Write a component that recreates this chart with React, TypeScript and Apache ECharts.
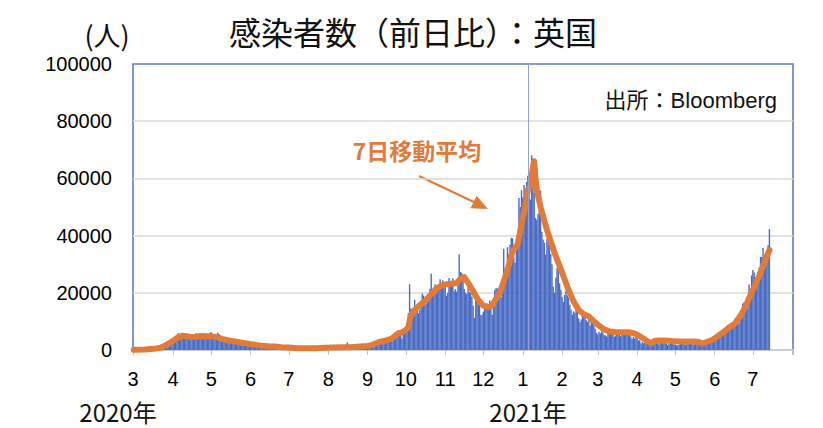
import React, { useEffect, useRef } from 'react';
import * as echarts from 'echarts';

// ---- Daily new cases (reported), UK ----
const monthKeys = [
  '2020-03', '2020-04', '2020-05', '2020-06', '2020-07', '2020-08', '2020-09', '2020-10',
  '2020-11', '2020-12', '2021-01', '2021-02', '2021-03', '2021-04', '2021-05', '2021-06', '2021-07',
];
const mar20 = [12, 4, 11, 34, 30, 48, 43, 67, 48, 52, 83, 134, 208, 342, 251, 152, 407, 676, 643, 714, 1035, 665, 967, 1427, 1452, 2129, 2885, 2546, 2433, 2619, 3009];
const apr20 = [4324, 4244, 4450, 3735, 5903, 3802, 3634, 5491, 4344, 5706, 5234, 5288, 4342, 5252, 4605, 4618, 5599, 5525, 5850, 4676, 4301, 4451, 4583, 5386, 4913, 4463, 4309, 3996, 4076, 6032];
const may20 = [6201, 4806, 4339, 3985, 4406, 6111, 5614, 4649, 3896, 3923, 3877, 3403, 3242, 3446, 3560, 3451, 3142, 2684, 2412, 2472, 2615, 3287, 2959, 2405, 1625, 2004, 2013, 1887, 2095, 1936, 1570];
const jun20 = [1613, 1871, 1805, 1650, 1557, 1326, 1205, 1387, 1003, 1266, 1541, 1425, 1514, 1056, 1279, 1115, 1218, 1346, 1295, 1221, 958, 874, 653, 1118, 1006, 890, 901, 1006, 814, 689];
const jul20 = [829, 576, 544, 624, 516, 352, 581, 630, 642, 512, 820, 650, 530, 598, 538, 687, 642, 827, 726, 580, 445, 560, 769, 768, 767, 743, 685, 581, 763, 846, 880];
const aug20 = [744, 743, 938, 670, 892, 950, 1500, 758, 1062, 816, 1148, 1009, 1441, 1012, 1077, 2600, 713, 1089, 812, 1182, 1033, 1288, 1041, 853, 1184, 1048, 1522, 1276, 1108, 1715, 1406];
const sep20 = [1295, 1508, 1735, 1940, 1813, 2988, 2948, 2460, 2659, 2919, 3539, 3497, 3330, 2621, 3105, 3991, 3395, 4322, 4422, 3899, 4368, 4926, 6178, 6634, 6874, 6042, 5693, 4044, 7143, 7108];
const oct20 = [6914, 6968, 12872, 22961, 14542, 14542, 14162, 17540, 13864, 15166, 12872, 13972, 17234, 19724, 18980, 15650, 16171, 16982, 18804, 21331, 26688, 21242, 20530, 23012, 19790, 20890, 22885, 24701, 23065, 24405, 21915];
const nov20 = [23254, 18950, 20018, 25177, 24141, 23287, 24957, 20572, 21350, 20412, 22950, 33470, 27301, 26860, 24962, 21363, 20051, 19609, 22915, 20252, 19875, 18662, 15450, 11299, 18213, 17555, 16022, 15871, 12155, 12330];
const dec20 = [13430, 16170, 14879, 16298, 15539, 17272, 14718, 12282, 16578, 20964, 21672, 21502, 18447, 20263, 18450, 25161, 35383, 28507, 27052, 35928, 33364, 36804, 39237, 39036, 32725, 30501, 34693, 41385, 53135, 50023, 55892];
const jan21 = [53285, 57725, 54990, 58784, 60916, 62322, 52618, 68053, 59937, 54940, 46169, 45533, 47525, 48682, 55761, 41346, 38598, 37535, 33355, 38905, 37892, 40261, 33552, 30004, 22195, 20089, 25308, 28680, 29079, 23275, 21088];
const feb21 = [18607, 16840, 19202, 20634, 19114, 18262, 15845, 14104, 12364, 13494, 13013, 15144, 13308, 10972, 9765, 10625, 12718, 12057, 12027, 10406, 9834, 10641, 8489, 9938, 9985, 8523, 7434, 6035];
const mar21 = [5455, 6391, 5766, 6573, 6040, 5177, 5177, 4712, 5766, 5926, 6753, 6609, 5534, 4618, 5089, 5294, 5758, 6303, 4802, 5587, 5312, 5342, 5379, 5605, 6397, 6187, 4715, 3862, 4654, 4052, 4479];
const apr21 = [4400, 3402, 3423, 2297, 2762, 2379, 2763, 3030, 2693, 1730, 1730, 3568, 2472, 2491, 2672, 2596, 2206, 1882, 2524, 2729, 2396, 2595, 2678, 2174, 1712, 2064, 2685, 2166, 2381, 2040];
const may21 = [1907, 1671, 1649, 1946, 2613, 2490, 2047, 2069, 1770, 2357, 2474, 2657, 2896, 2193, 2027, 1926, 2412, 2696, 2874, 3180, 2829, 2235, 1979, 2439, 2493, 3542, 3180, 4182, 3398, 3240, 3100];
const jun21 = [3165, 4330, 5274, 6238, 5765, 5341, 5683, 6048, 7540, 7393, 8125, 7738, 7490, 7742, 7673, 9055, 11007, 10476, 10321, 9284, 10633, 11625, 16135, 16703, 15810, 18270, 14876, 22868, 20479, 26068];
const jul21 = [27989, 27125, 24885, 24248, 27334, 28773, 32548, 32551, 35707, 32367, 31772, 34471, 36660, 42302];
const dailyByMonth = [mar20, apr20, may20, jun20, jul20, aug20, sep20, oct20, nov20, dec20, jan21, feb21, mar21, apr21, may21, jun21, jul21];

// ---- 7-day moving average (as drawn) ----
const maDates = [
  '2020-03-01', '2020-03-10', '2020-03-17', '2020-03-22', '2020-03-27', '2020-04-01', '2020-04-05', '2020-04-08',
  '2020-04-12', '2020-04-16', '2020-04-20', '2020-04-24', '2020-04-28', '2020-05-02', '2020-05-06', '2020-05-10',
  '2020-05-14', '2020-05-18', '2020-05-22', '2020-05-26', '2020-05-31', '2020-06-05', '2020-06-10', '2020-06-15',
  '2020-06-20', '2020-06-25', '2020-07-01', '2020-07-08', '2020-07-15', '2020-07-22', '2020-07-29', '2020-08-05',
  '2020-08-12', '2020-08-19', '2020-08-26', '2020-09-01', '2020-09-05', '2020-09-10', '2020-09-15', '2020-09-20',
  '2020-09-24', '2020-09-28', '2020-10-01', '2020-10-03', '2020-10-05', '2020-10-09', '2020-10-13', '2020-10-17',
  '2020-10-21', '2020-10-25', '2020-10-29', '2020-11-02', '2020-11-06', '2020-11-10', '2020-11-13', '2020-11-16',
  '2020-11-19', '2020-11-23', '2020-11-27', '2020-12-01', '2020-12-05', '2020-12-08', '2020-12-11', '2020-12-14',
  '2020-12-17', '2020-12-20', '2020-12-24', '2020-12-28', '2021-01-01', '2021-01-04', '2021-01-05', '2021-01-07',
  '2021-01-08', '2021-01-09', '2021-01-10', '2021-01-11', '2021-01-12', '2021-01-15', '2021-01-20', '2021-01-26',
  '2021-02-01', '2021-02-06', '2021-02-10', '2021-02-14', '2021-02-18', '2021-02-22', '2021-02-26', '2021-03-02',
  '2021-03-06', '2021-03-10', '2021-03-15', '2021-03-20', '2021-03-25', '2021-03-30', '2021-04-03', '2021-04-07',
  '2021-04-10', '2021-04-12', '2021-04-15', '2021-04-20', '2021-04-25', '2021-04-30', '2021-05-05', '2021-05-10',
  '2021-05-15', '2021-05-19', '2021-05-22', '2021-05-25', '2021-05-30', '2021-06-04', '2021-06-08', '2021-06-12',
  '2021-06-17', '2021-06-22', '2021-06-26', '2021-06-30', '2021-07-03', '2021-07-06', '2021-07-10', '2021-07-14',
];
const maValues = [
  100, 150, 400, 800, 1800, 3200, 4500, 5000,
  4800, 4500, 4700, 4900, 4800, 4700, 4400, 3800,
  3400, 3100, 2800, 2500, 2100, 1800, 1500, 1300,
  1200, 1000, 850, 650, 600, 650, 750, 850,
  950, 1000, 1200, 1400, 1800, 2800, 3300, 4000,
  5500, 6200, 7000, 8000, 12000, 14500, 16000, 17500,
  19500, 21500, 22500, 23000, 23200, 23300, 25000, 25500,
  23500, 20500, 17500, 15500, 15000, 15500, 18000, 20000,
  24000, 28000, 34500, 37000, 46000, 53000, 56000, 57500,
  60000, 64000, 66000, 60000, 56000, 50000, 42000, 34000,
  27000, 21000, 17000, 14000, 12500, 11700, 10000, 8500,
  7200, 6500, 6300, 6200, 6200, 5800, 4800, 3700,
  2800, 2300, 3200, 3300, 3200, 3100, 3000, 3000,
  3000, 2900, 2200, 2700, 3500, 5000, 6300, 7800,
  9300, 12500, 16000, 20000, 23000, 26000, 30500, 35000,
];

const yearLabels = ['2020年', '2021年'];

const LATIN = '"Liberation Sans", Arial, "Noto Sans CJK JP", sans-serif';
const CJK = '"Noto Sans CJK JP", "Liberation Sans", sans-serif';

function buildDaily(): [string, number][] {
  const out: [string, number][] = [];
  monthKeys.forEach((k, mi) => {
    dailyByMonth[mi].forEach((v, i) => {
      out.push([`${k}-${String(i + 1).padStart(2, '0')}`, v]);
    });
  });
  return out;
}

export default function App() {
  const ref = useRef<HTMLDivElement>(null);
  useEffect(() => {
    if (!ref.current) return;
    const chart = echarts.init(ref.current, null, { renderer: 'svg' });
    const daily = buildDaily();
    const ma = maDates.map((d, i) => [d, maValues[i]]);
    const DAY = 86400000;
    chart.setOption({
      animation: false,
      grid: {
        left: 133, right: 30, top: 64, bottom: 78,
        show: true, borderColor: '#5F7DC0', borderWidth: 1.6, backgroundColor: 'transparent',
      },
      xAxis: {
        type: 'time',
        min: '2020-03-01',
        max: '2021-08-01',
        minInterval: 28 * DAY,
        maxInterval: 31 * DAY,
        splitLine: { show: false },
        axisLine: { show: true, lineStyle: { color: '#C8CEDB', width: 2 } },
        axisTick: { show: true, length: 5, lineStyle: { color: '#BFBFBF', width: 1 } },
        axisLabel: {
          color: '#000', fontSize: 20, fontFamily: LATIN, margin: 19,
          showMinLabel: true, showMaxLabel: true, hideOverlap: false,
          formatter: (value: number) => {
            const d = new Date(value + 2 * DAY);
            if (d.getFullYear() === 2021 && d.getMonth() === 7) return '';
            return String(d.getMonth() + 1);
          },
        },
      },
      yAxis: {
        type: 'value', min: 0, max: 100000, interval: 20000,
        axisLine: { show: false },
        axisTick: { show: false },
        splitLine: { show: true, showMaxLine: false, showMinLine: false, lineStyle: { color: '#D9D9D9', width: 1.5 } },
        axisLabel: { color: '#000', fontSize: 20, fontFamily: LATIN, margin: 21, formatter: (v: number) => String(v) },
      },
      series: [
        {
          type: 'bar',
          data: daily,
          barWidth: 1.4,
          itemStyle: { color: '#4B6CC4' },
          markLine: {
            silent: true,
            symbol: ['none', 'none'],
            label: { show: false },
            lineStyle: { color: '#8FA2D2', width: 1, type: 'solid' },
            data: [{ xAxis: '2021-01-05' }],
          },
        },
        {
          type: 'line',
          data: ma,
          showSymbol: false,
          symbol: 'none',
          z: 3,
          lineStyle: { color: '#E07B39', width: 6, cap: 'round', join: 'round' },
        },
      ],
      graphic: [
        {
          type: 'text', x: 413, y: 31,
          style: { text: '感染者数（前日比）：英国', font: `32px ${CJK}`, fill: '#111', align: 'center', verticalAlign: 'middle', textAlign: 'center', textVerticalAlign: 'middle' },
        },
        {
          type: 'text', x: 107, y: 34,
          style: { text: '(人)', font: `27px ${CJK}`, fill: '#111', align: 'center', verticalAlign: 'middle', textAlign: 'center', textVerticalAlign: 'middle' },
        },
        {
          type: 'text', x: 777, y: 100,
          style: { text: '出所：Bloomberg', font: `22px ${LATIN}`, fill: '#111', align: 'right', verticalAlign: 'middle', textAlign: 'right', textVerticalAlign: 'middle' },
        },
        {
          type: 'text', x: 417, y: 150,
          style: { text: '7日移動平均', font: `bold 23px ${CJK}`, fill: '#E07B39', align: 'center', verticalAlign: 'middle', textAlign: 'center', textVerticalAlign: 'middle' },
        },
        {
          type: 'line',
          shape: { x1: 419, y1: 176, x2: 476, y2: 203 },
          style: { stroke: '#E07B39', lineWidth: 2 },
        },
        {
          type: 'polygon',
          shape: { points: [[488, 209], [470.5, 208.3], [476.7, 195.7]] },
          style: { fill: '#E07B39' },
        },
        {
          type: 'text', x: 118, y: 411,
          style: { text: yearLabels[0], font: `24px ${CJK}`, fill: '#111', align: 'center', verticalAlign: 'middle', textAlign: 'center', textVerticalAlign: 'middle' },
        },
        {
          type: 'text', x: 528, y: 411,
          style: { text: yearLabels[1], font: `24px ${CJK}`, fill: '#111', align: 'center', verticalAlign: 'middle', textAlign: 'center', textVerticalAlign: 'middle' },
        },
      ],
    });
    return () => chart.dispose();
  }, []);
  return <div ref={ref} style={{ width: 823, height: 428, position: 'absolute', left: 0, top: 0 }} />;
}
